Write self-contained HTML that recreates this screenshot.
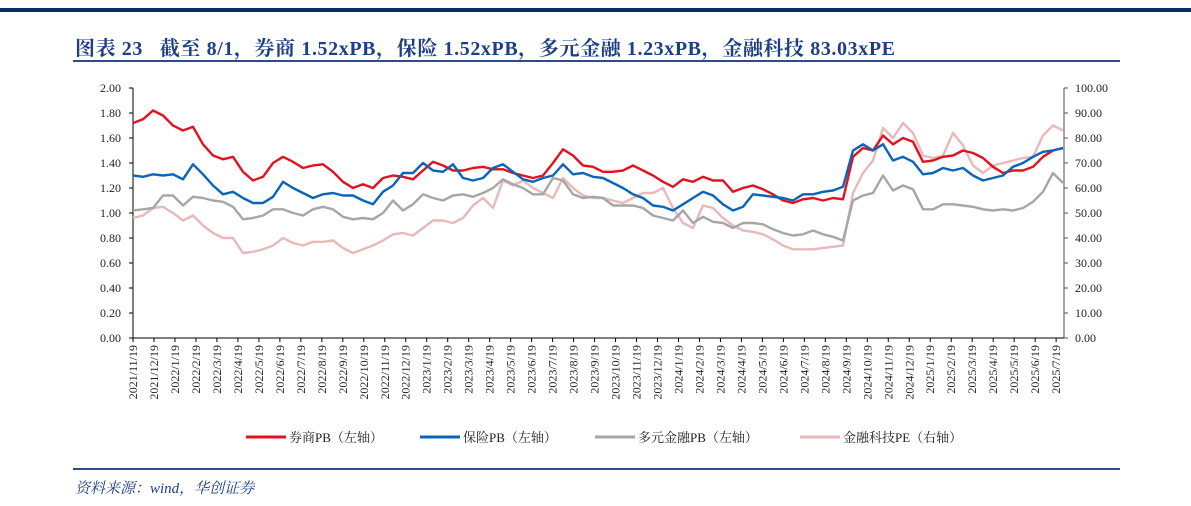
<!DOCTYPE html>
<html><head><meta charset="utf-8"><style>
html,body{margin:0;padding:0;background:#fff;}
body{width:1191px;height:506px;overflow:hidden;position:relative;font-family:"Liberation Serif","Noto Serif CJK SC",serif;}
#top-rule{position:absolute;left:0;top:8px;width:1191px;height:4px;background:#0c2b5e;}
#title{position:absolute;left:75px;top:32px;font-size:20px;font-weight:bold;color:#1d3f86;white-space:nowrap;letter-spacing:0.6px;}
#title-rule{position:absolute;left:73px;top:60px;width:1047px;height:2px;background:#2a4c8e;}
#bottom-rule{position:absolute;left:73px;top:468px;width:1047px;height:2px;background:#2a4c8e;}
#source{position:absolute;left:75px;top:477px;font-size:15px;font-style:italic;color:#1d3f86;}
svg{position:absolute;left:0;top:0;}
</style></head><body>
<div id="top-rule"></div>
<div id="title">图表 23&nbsp;&nbsp;&nbsp;截至 8/1，券商 1.52xPB，保险 1.52xPB，多元金融 1.23xPB，金融科技 83.03xPE</div>
<div id="title-rule"></div>
<svg id="chart" width="1191" height="506"></svg>
<div id="bottom-rule"></div>
<div id="source">资料来源：wind，华创证券</div>
<script>
const monthLabels = ["2021/11/19","2021/12/19","2022/1/19","2022/2/19","2022/3/19","2022/4/19","2022/5/19","2022/6/19","2022/7/19","2022/8/19","2022/9/19","2022/10/19","2022/11/19","2022/12/19","2023/1/19","2023/2/19","2023/3/19","2023/4/19","2023/5/19","2023/6/19","2023/7/19","2023/8/19","2023/9/19","2023/10/19","2023/11/19","2023/12/19","2024/1/19","2024/2/19","2024/3/19","2024/4/19","2024/5/19","2024/6/19","2024/7/19","2024/8/19","2024/9/19","2024/10/19","2024/11/19","2024/12/19","2025/1/19","2025/2/19","2025/3/19","2025/4/19","2025/5/19","2025/6/19","2025/7/19"];
const leftTicks = ["0.00","0.20","0.40","0.60","0.80","1.00","1.20","1.40","1.60","1.80","2.00"];
const rightTicks = ["0.00","10.00","20.00","30.00","40.00","50.00","60.00","70.00","80.00","90.00","100.00"];
const brokerPB = [1.72,1.75,1.82,1.78,1.70,1.66,1.69,1.55,1.46,1.43,1.45,1.33,1.26,1.29,1.40,1.45,1.41,1.36,1.38,1.39,1.33,1.25,1.20,1.23,1.20,1.28,1.30,1.29,1.27,1.34,1.41,1.38,1.34,1.34,1.36,1.37,1.35,1.35,1.32,1.30,1.28,1.30,1.40,1.51,1.46,1.38,1.37,1.33,1.33,1.34,1.38,1.34,1.30,1.25,1.21,1.27,1.25,1.29,1.26,1.26,1.17,1.20,1.22,1.19,1.15,1.10,1.08,1.11,1.12,1.10,1.12,1.11,1.45,1.52,1.50,1.62,1.55,1.60,1.57,1.41,1.42,1.45,1.46,1.50,1.48,1.44,1.37,1.32,1.34,1.34,1.37,1.45,1.50,1.52];
const insurancePB = [1.30,1.29,1.31,1.30,1.31,1.27,1.39,1.31,1.22,1.15,1.17,1.12,1.08,1.08,1.13,1.25,1.20,1.16,1.12,1.15,1.16,1.14,1.14,1.10,1.07,1.17,1.22,1.32,1.32,1.40,1.34,1.33,1.39,1.28,1.26,1.28,1.36,1.39,1.33,1.27,1.25,1.28,1.30,1.39,1.31,1.32,1.29,1.28,1.24,1.20,1.15,1.12,1.06,1.05,1.02,1.07,1.12,1.17,1.14,1.07,1.02,1.05,1.15,1.14,1.13,1.12,1.10,1.15,1.15,1.17,1.18,1.21,1.50,1.55,1.50,1.55,1.42,1.45,1.41,1.31,1.32,1.36,1.34,1.36,1.30,1.26,1.28,1.30,1.37,1.40,1.45,1.49,1.50,1.52];
const diversifiedPB = [1.02,1.03,1.04,1.14,1.14,1.06,1.13,1.12,1.10,1.09,1.05,0.95,0.96,0.98,1.03,1.03,1.00,0.98,1.03,1.05,1.03,0.97,0.95,0.96,0.95,1.00,1.10,1.02,1.07,1.15,1.12,1.10,1.14,1.15,1.13,1.16,1.20,1.27,1.23,1.20,1.15,1.15,1.28,1.26,1.15,1.12,1.13,1.12,1.06,1.06,1.06,1.04,0.98,0.96,0.94,1.02,0.92,0.97,0.93,0.92,0.88,0.92,0.92,0.91,0.87,0.84,0.82,0.83,0.86,0.83,0.81,0.78,1.10,1.14,1.16,1.30,1.18,1.22,1.19,1.03,1.03,1.07,1.07,1.06,1.05,1.03,1.02,1.03,1.02,1.04,1.09,1.17,1.32,1.24];
const fintechPE = [48,49,52,52.5,50,47,49,45,42,40,40,34,34.5,35.5,37,40,38,37,38.5,38.5,39,36,34,35.5,37,39,41.5,42,41,44,47,47,46,48,53,56,52,63,61,63,60,58,56,64,60,57,56,56,55,54,56,58,58,60,52,46,44,53,52,48,45,43,42.5,41.5,39.5,37,35.5,35.5,35.5,36,36.5,37,58,66,71,84,80,86,82,73,72,73,82,77,69,66,69,70,71,72,72.5,81,85,83];

const NS = "http://www.w3.org/2000/svg";
const svg = document.getElementById('chart');
const X0 = 133, X1 = 1064, Y0 = 338, Y1 = 88;
const yL = v => Y0 - (v / 2) * (Y0 - Y1);
const yR = v => Y0 - (v / 100) * (Y0 - Y1);
const xMonth = i => X0 + i * 20.98;
const xIdx = (i, n) => X0 + i * (X1 - 1 - X0) / (n - 1);
function mk(tag, attrs) { const e = document.createElementNS(NS, tag); for (const k in attrs) e.setAttribute(k, attrs[k]); svg.appendChild(e); return e; }

const la = mk('line', {x1: X0, y1: Y1, x2: X0, y2: Y0, stroke: '#000', 'stroke-width': 1});


const ra = mk('line', {x1: X1, y1: Y1, x2: X1, y2: Y0, stroke: '#888', 'stroke-width': 1.5});


const ba = mk('line', {x1: X0, y1: Y0, x2: X1, y2: Y0, stroke: '#000', 'stroke-width': 1});



leftTicks.forEach((t, i) => {
  const y = yL(i * 0.2);
  const tk = mk('line', {x1: X0 - 4, y1: y, x2: X0, y2: y, stroke: '#000'});
  
  
  const tx = mk('text', {x: X0 - 12, y: y + 4, 'text-anchor': 'end', 'font-size': 12, fill: '#222', 'font-family': 'Liberation Serif, serif'});
  tx.textContent = t;
  
  
});
rightTicks.forEach((t, i) => {
  const y = yR(i * 10);
  const tk = mk('line', {x1: X1, y1: y, x2: X1 + 4, y2: y, stroke: '#555'});
  
  
  const tx = mk('text', {x: X1 + 11, y: y + 4, 'text-anchor': 'start', 'font-size': 12, fill: '#222', 'font-family': 'Liberation Serif, serif'});
  tx.textContent = t;
  
  
});
monthLabels.forEach((t, i) => {
  const x = xMonth(i);
  const tk = mk('line', {x1: x, y1: Y0, x2: x, y2: Y0 + 4, stroke: '#000'});
  
  
  const tx = mk('text', {x: 0, y: 0, 'text-anchor': 'end', 'font-size': 12, fill: '#222', 'font-family': 'Liberation Serif, serif', transform: `translate(${x + 4},${Y0 + 7}) rotate(-90)`});
  tx.textContent = t;
  
  
});

function series(data, fy, color, name) {
  const pts = data.map((v, i) => xIdx(i, data.length).toFixed(1) + ',' + fy(v).toFixed(1)).join(' ');
  const p = mk('polyline', {points: pts, fill: 'none', stroke: color, 'stroke-width': 2.4, 'stroke-linejoin': 'round'});
  
  
}
series(fintechPE, yR, '#e8b9b9', 'fintech-pe-line');
series(diversifiedPB, yL, '#a6a6a6', 'diversified-finance-pb-line');
series(brokerPB, yL, '#e3121f', 'broker-pb-line');
series(insurancePB, yL, '#0a64b8', 'insurance-pb-line');

const legend = [
  ['券商PB（左轴）', '#e3121f', 246, 'legend-broker'],
  ['保险PB（左轴）', '#0a64b8', 420, 'legend-insurance'],
  ['多元金融PB（左轴）', '#a6a6a6', 595, 'legend-diversified'],
  ['金融科技PE（右轴）', '#e8b9b9', 800, 'legend-fintech']
];
legend.forEach(l => {
  const ln = mk('line', {x1: l[2], y1: 437, x2: l[2] + 40, y2: 437, stroke: l[1], 'stroke-width': 3});
  
  
  const tx = mk('text', {x: l[2] + 43, y: 442, 'font-size': 13, fill: '#222', 'font-family': 'Liberation Serif, Noto Serif CJK SC, serif'});
  tx.textContent = l[0];
  
  
});
</script>
</body></html>
